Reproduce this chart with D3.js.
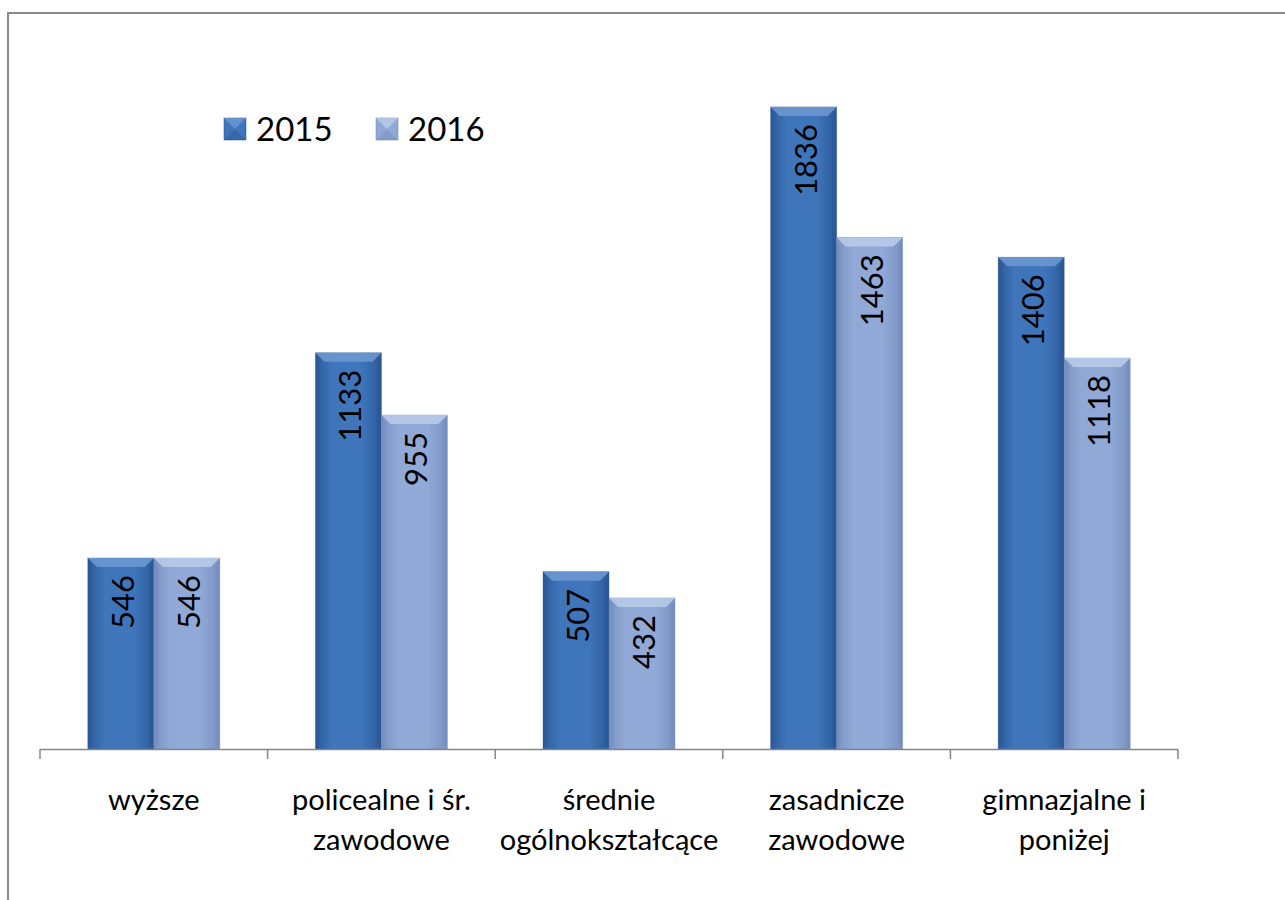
<!DOCTYPE html>
<html><head><meta charset="utf-8">
<script src="https://cdn.jsdelivr.net/npm/d3@7"></script>
<style>html,body{margin:0;padding:0;background:#fff;}svg{display:block;}</style>
</head><body>
<svg id="c" width="1285" height="900"></svg>
<script>
const categories = [["wyższe"],["policealne i śr.","zawodowe"],["średnie","ogólnokształcące"],["zasadnicze","zawodowe"],["gimnazjalne i","poniżej"]];
const seriesNames = ["2015","2016"];
const values2015 = [546,1133,507,1836,1406];
const values2016 = [546,955,432,1463,1118];

const FONT = "Lato, 'Open Sans', sans-serif";
const svg = d3.select("#c");
const baseY = 749, left = 40, right = 1178;

// frame
svg.append("rect").attr("x",8).attr("y",13).attr("width",1290).attr("height",900)
  .attr("fill","none").attr("stroke","#8a8a8a").attr("stroke-width",2);

const defs = svg.append("defs");
const pal = [
  {mid:"#3F75BA", edge:"#2C5B9A", top:"#6E9AD4", dark:"#26518A"},
  {mid:"#91A9D6", edge:"#7A92C2", top:"#BACCEA", dark:"#6A83B3"}
];
pal.forEach((p,i)=>{
  const g = defs.append("linearGradient").attr("id","g"+i).attr("x1","0").attr("x2","1").attr("y1","0").attr("y2","0");
  g.append("stop").attr("offset","0").attr("stop-color",p.edge);
  g.append("stop").attr("offset","0.25").attr("stop-color",p.mid);
  g.append("stop").attr("offset","0.7").attr("stop-color",p.mid);
  g.append("stop").attr("offset","1").attr("stop-color",p.edge);
});

const x0 = d3.scaleBand().domain(d3.range(categories.length)).range([left,right]).paddingInner(0).paddingOuter(0);
const x1 = d3.scaleBand().domain([0,1]).range([0,x0.bandwidth()]).paddingOuter(0.725).paddingInner(0);
const y = d3.scaleLinear().domain([0,2000]).range([baseY,49.6]);

const data = categories.map((c,i)=>[values2015[i],values2016[i]]);

const groups = svg.append("g").selectAll("g").data(data).join("g")
  .attr("transform",(d,i)=>`translate(${x0(i)},0)`);

groups.each(function(d){
  const g = d3.select(this);
  d.forEach((v,s)=>{
    const bx = x1(s), bw = x1.bandwidth(), by = y(v), bh = baseY - y(v);
    const p = pal[s];
    g.append("rect").attr("x",bx).attr("y",by).attr("width",bw).attr("height",bh)
      .attr("fill",`url(#g${s})`).attr("stroke",p.dark).attr("stroke-opacity",0.35).attr("stroke-width",1);
    const bev = 9;
    g.append("path").attr("d",`M${bx},${by}L${bx+bw},${by}L${bx+bw-bev},${by+bev}L${bx+bev},${by+bev}Z`)
      .attr("fill",p.top).attr("opacity",0.85);
    g.append("path").attr("d",`M${bx},${by}L${bx+bev*0.5},${by+bev}L${bx+bev*0.5},${baseY-bev*0.5}L${bx},${baseY}Z`)
      .attr("fill",p.dark).attr("opacity",0.25);
    g.append("path").attr("d",`M${bx+bw},${by}L${bx+bw-bev*0.5},${by+bev}L${bx+bw-bev*0.5},${baseY-bev*0.5}L${bx+bw},${baseY}Z`)
      .attr("fill",p.dark).attr("opacity",0.3);
    g.append("text").attr("transform",`translate(${bx+bw/2+1},${by+17}) rotate(-90)`)
      .attr("text-anchor","end").attr("dominant-baseline","central")
      .attr("font-family",FONT).attr("font-size",31).attr("fill","#000").text(v);
  });
});

// axis
svg.append("line").attr("x1",left).attr("x2",right).attr("y1",baseY+0.5).attr("y2",baseY+0.5)
  .attr("stroke","#868686").attr("stroke-width",1.5);
d3.range(categories.length+1).forEach(i=>{
  const xx = i<categories.length ? x0(i) : right;
  svg.append("line").attr("x1",xx).attr("x2",xx).attr("y1",baseY).attr("y2",baseY+10)
    .attr("stroke","#868686").attr("stroke-width",1.5);
});

// category labels
categories.forEach((lines,i)=>{
  const t = svg.append("text").attr("text-anchor","middle").attr("font-family",FONT)
    .attr("font-size",29).attr("fill","#000");
  lines.forEach((l,j)=>{
    t.append("tspan").attr("x",x0(i)+x0.bandwidth()/2).attr("y",810+j*40).text(l);
  });
});

// legend
const legX = [224,376];
seriesNames.forEach((n,s)=>{
  const p = pal[s];
  const lx = legX[s], ly = 118, sz = 22;
  svg.append("rect").attr("x",lx).attr("y",ly).attr("width",sz).attr("height",sz).attr("fill",p.mid)
    .attr("stroke",p.dark).attr("stroke-opacity",0.5);
  svg.append("path").attr("d",`M${lx},${ly}L${lx+sz},${ly}L${lx+sz/2},${ly+sz/2}Z`).attr("fill",p.top).attr("opacity",0.8);
  svg.append("path").attr("d",`M${lx},${ly+sz}L${lx+sz},${ly+sz}L${lx+sz/2},${ly+sz/2}Z`).attr("fill",p.dark).attr("opacity",0.35);
  svg.append("text").attr("x",lx+32).attr("y",ly+sz+1).attr("font-family",FONT).attr("font-size",33)
    .attr("fill","#000").text(n);
});
</script>
</body></html>
